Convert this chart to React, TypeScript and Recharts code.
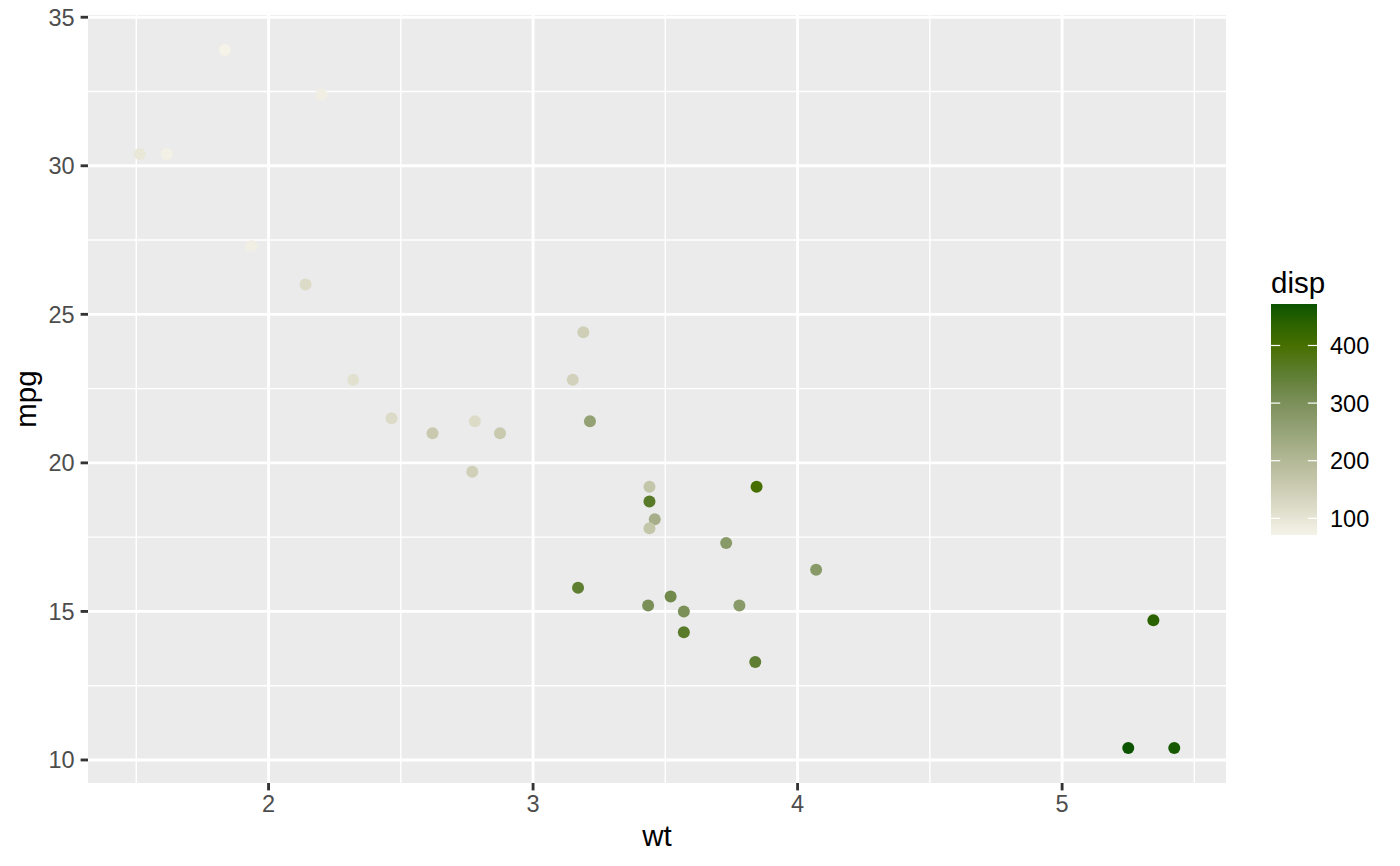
import React from 'react';
import { ScatterChart, Scatter, XAxis, YAxis, CartesianGrid } from 'recharts';

// mtcars: wt vs mpg, coloured by disp
const carNames = [
  'Mazda RX4', 'Mazda RX4 Wag', 'Datsun 710', 'Hornet 4 Drive', 'Hornet Sportabout', 'Valiant',
  'Duster 360', 'Merc 240D', 'Merc 230', 'Merc 280', 'Merc 280C', 'Merc 450SE', 'Merc 450SL',
  'Merc 450SLC', 'Cadillac Fleetwood', 'Lincoln Continental', 'Chrysler Imperial', 'Fiat 128',
  'Honda Civic', 'Toyota Corolla', 'Toyota Corona', 'Dodge Challenger', 'AMC Javelin', 'Camaro Z28',
  'Pontiac Firebird', 'Fiat X1-9', 'Porsche 914-2', 'Lotus Europa', 'Ford Pantera L', 'Ferrari Dino',
  'Maserati Bora', 'Volvo 142E',
];
const wt = [2.62, 2.875, 2.32, 3.215, 3.44, 3.46, 3.57, 3.19, 3.15, 3.44, 3.44, 4.07, 3.73, 3.78, 5.25, 5.424,
  5.345, 2.2, 1.615, 1.835, 2.465, 3.52, 3.435, 3.84, 3.845, 1.935, 2.14, 1.513, 3.17, 2.77, 3.57, 2.78];
const mpg = [21, 21, 22.8, 21.4, 18.7, 18.1, 14.3, 24.4, 22.8, 19.2, 17.8, 16.4, 17.3, 15.2, 10.4, 10.4,
  14.7, 32.4, 30.4, 33.9, 21.5, 15.5, 15.2, 13.3, 19.2, 27.3, 26, 30.4, 15.8, 19.7, 15, 21.4];
const disp = [160, 160, 108, 258, 360, 225, 360, 146.7, 140.8, 167.6, 167.6, 275.8, 275.8, 275.8, 472, 460,
  440, 78.7, 75.7, 71.1, 120.1, 318, 304, 350, 400, 79, 120.3, 95.1, 351, 145, 301, 121];

const xMajorTicks = [2, 3, 4, 5];
const xMinorTicks = [1.5, 2.5, 3.5, 4.5, 5.5];
const yMajorTicks = [10, 15, 20, 25, 30, 35];
const yMinorTicks = [12.5, 17.5, 22.5, 27.5, 32.5];
const legendTicks = [100, 200, 300, 400];

// colour scale
const colorStopValues = [71.1, 100, 150, 200, 250, 300, 350, 400, 440, 472];
const colorStopHex = ['#F5F3E8', '#E6E5D5', '#CDCDB5', '#B3B896', '#97A479', '#7C905A', '#5E7E33', '#476F00', '#2A6200', '#0B5300'];

const hexToRgb = (h: string) => [parseInt(h.slice(1, 3), 16), parseInt(h.slice(3, 5), 16), parseInt(h.slice(5, 7), 16)];
const colorFor = (v: number) => {
  const n = colorStopValues.length;
  if (v <= colorStopValues[0]) return colorStopHex[0];
  if (v >= colorStopValues[n - 1]) return colorStopHex[n - 1];
  let i = 0;
  while (v > colorStopValues[i + 1]) i++;
  const t = (v - colorStopValues[i]) / (colorStopValues[i + 1] - colorStopValues[i]);
  const a = hexToRgb(colorStopHex[i]);
  const b = hexToRgb(colorStopHex[i + 1]);
  const c = a.map((x, k) => Math.round(x + (b[k] - x) * t));
  return `rgb(${c[0]},${c[1]},${c[2]})`;
};

const xDomainMin = Math.min(...wt) - 0.05 * (Math.max(...wt) - Math.min(...wt));
const xDomainMax = Math.max(...wt) + 0.05 * (Math.max(...wt) - Math.min(...wt));
const yDomainMin = Math.min(...mpg) - 0.05 * (Math.max(...mpg) - Math.min(...mpg));
const yDomainMax = Math.max(...mpg) + 0.05 * (Math.max(...mpg) - Math.min(...mpg));
const dispMin = Math.min(...disp);
const dispMax = Math.max(...disp);

const points = wt.map((w, i) => ({ name: carNames[i], wt: w, mpg: mpg[i], disp: disp[i] }));

const FONT = '"Liberation Sans", Arial, Helvetica, sans-serif';

const PointShape = (p: any) => (
  <circle cx={p.cx} cy={p.cy} r={6} fill={colorFor(p.payload.disp)} />
);

export default function App() {
  // legend geometry
  const barX = 1271, barY = 304, barW = 46, barH = 231;
  const legendY = (v: number) => barY + barH - ((v - dispMin) / (dispMax - dispMin)) * barH;

  return (
    <div style={{ position: 'absolute', left: 0, top: 0, width: 1400, height: 866, background: '#FFFFFF', fontFamily: FONT }}>
      <ScatterChart width={1400} height={866} margin={{ top: 15, right: 174, bottom: 0, left: 0 }}>
        <CartesianGrid
          fill="#EBEBEB"
          fillOpacity={1}
          stroke="#FFFFFF"
          strokeWidth={1.43}
          horizontalValues={yMinorTicks}
          verticalValues={xMinorTicks}
        />
        <CartesianGrid
          stroke="#FFFFFF"
          strokeWidth={2.85}
          horizontalValues={yMajorTicks}
          verticalValues={xMajorTicks}
        />
        <XAxis
          type="number"
          dataKey="wt"
          domain={[xDomainMin, xDomainMax]}
          allowDataOverflow
          ticks={xMajorTicks}
          interval={0}
          height={83}
          axisLine={false}
          tickSize={7.4}
          tickMargin={5}
          tickLine={{ stroke: '#333333', strokeWidth: 2.85 }}
          tick={{ fill: '#4D4D4D', fontSize: 23.5, fontFamily: FONT }}
        />
        <YAxis
          type="number"
          dataKey="mpg"
          domain={[yDomainMin, yDomainMax]}
          allowDataOverflow
          ticks={yMajorTicks}
          interval={0}
          width={88}
          axisLine={false}
          tickSize={7.4}
          tickMargin={6}
          tickLine={{ stroke: '#333333', strokeWidth: 2.85 }}
          tick={{ fill: '#4D4D4D', fontSize: 23.5, fontFamily: FONT }}
        />
        <Scatter data={points} shape={PointShape} isAnimationActive={false} />
      </ScatterChart>

      <svg
        width={1400}
        height={866}
        style={{ position: 'absolute', left: 0, top: 0, pointerEvents: 'none' }}
      >
        <defs>
          <linearGradient id="dispGrad" x1="0" y1="1" x2="0" y2="0">
            {colorStopValues.map((v, i) => (
              <stop key={i} offset={(v - dispMin) / (dispMax - dispMin)} stopColor={colorStopHex[i]} />
            ))}
          </linearGradient>
        </defs>
        {/* axis titles */}
        <text x={657} y={846} textAnchor="middle" fontSize={29.5} fill="#000000" fontFamily={FONT}>wt</text>
        <text
          x={36}
          y={399}
          textAnchor="middle"
          fontSize={29.5}
          fill="#000000"
          fontFamily={FONT}
          transform="rotate(-90 36 399)"
        >
          mpg
        </text>
        {/* legend */}
        <text x={1271} y={293} fontSize={29.5} fill="#000000" fontFamily={FONT}>disp</text>
        <rect x={barX} y={barY} width={barW} height={barH} fill="url(#dispGrad)" />
        {legendTicks.map((v) => {
          const y = legendY(v);
          return (
            <g key={v}>
              <line x1={barX} x2={barX + barW / 5} y1={y} y2={y} stroke="#FFFFFF" strokeWidth={1.2} />
              <line x1={barX + barW - barW / 5} x2={barX + barW} y1={y} y2={y} stroke="#FFFFFF" strokeWidth={1.2} />
              <text x={1330} y={y} dy="0.36em" fontSize={23.5} fill="#000000" fontFamily={FONT}>{v}</text>
            </g>
          );
        })}
      </svg>
    </div>
  );
}
